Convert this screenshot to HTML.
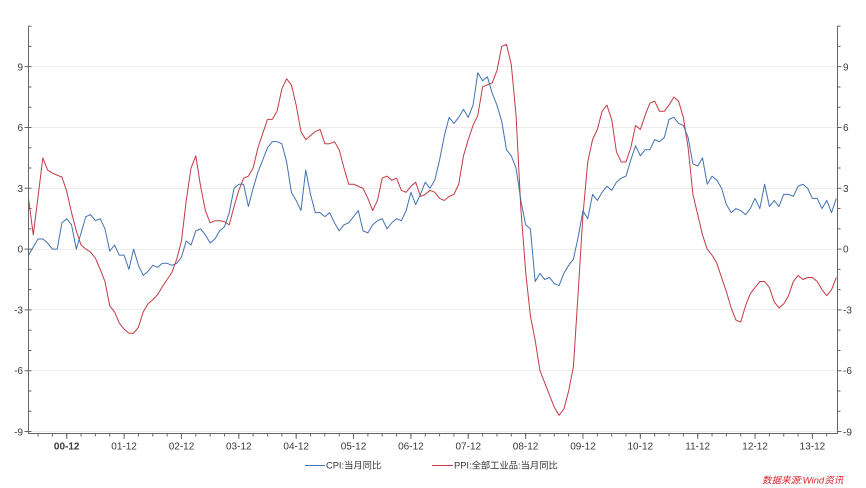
<!DOCTYPE html>
<html>
<head>
<meta charset="utf-8">
<style>
  html,body{margin:0;padding:0;background:#fff;}
  svg{display:block;}
  .tl{font-family:"Liberation Sans","Noto Sans CJK SC",sans-serif;font-size:10px;fill:#3a3a3a;}
  .lg{font-family:"Liberation Sans","Noto Sans CJK SC",sans-serif;font-size:9.3px;fill:#333;}
  .src{font-family:"Liberation Sans","Noto Sans CJK SC",sans-serif;font-size:9.5px;fill:#e0202a;font-style:italic;}
</style>
</head>
<body>
<svg width="866" height="488" viewBox="0 0 866 488" xmlns="http://www.w3.org/2000/svg">
  <rect x="0" y="0" width="866" height="488" fill="#fff"/>
  <!-- gridlines -->
  <g stroke="#ececec" stroke-width="1" shape-rendering="crispEdges">
    <line x1="29" y1="66.5" x2="837" y2="66.5"/>
    <line x1="29" y1="127.5" x2="837" y2="127.5"/>
    <line x1="29" y1="188.5" x2="837" y2="188.5"/>
    <line x1="29" y1="249.5" x2="837" y2="249.5"/>
    <line x1="29" y1="309.5" x2="837" y2="309.5"/>
    <line x1="29" y1="370.5" x2="837" y2="370.5"/>
    <line x1="29" y1="431.5" x2="837" y2="431.5"/>
  </g>

  <!-- series -->
  <g transform="translate(28.5,249.1) scale(4.78,-20.27)" fill="none" stroke-linejoin="round">
    <polyline vector-effect="non-scaling-stroke" stroke="#c43a44" stroke-width="1" points="0,2.5 1,0.7 2,2.6 3,4.5 4,3.9 5,3.75 6,3.65 7,3.55 8,2.85 9,1.8 10,0.9 11,0.2 12,0 13,-0.15 14,-0.45 15,-1 16,-1.6 17,-2.8 18,-3.1 19,-3.65 20,-3.95 21,-4.15 22,-4.15 23,-3.85 24,-3.1 25,-2.7 26,-2.5 27,-2.25 28,-1.85 29,-1.5 30,-1.15 31,-0.5 32,0.4 33,2.4 34,4 35,4.6 36,3.1 37,1.9 38,1.3 39,1.4 40,1.4 41,1.35 42,1.2 43,2.1 44,2.9 45,3.5 46,3.6 47,4 48,5 49,5.7 50,6.4 51,6.4 52,6.8 53,7.9 54,8.4 55,8.1 56,7.1 57,5.8 58,5.4 59,5.6 60,5.8 61,5.9 62,5.2 63,5.2 64,5.3 65,4.9 66,4 67,3.2 68,3.2 69,3.1 70,3 71,2.5 72,1.9 73,2.4 74,3.5 75,3.6 76,3.4 77,3.5 78,2.9 79,2.8 80,3.1 81,3.3 82,2.6 83,2.7 84,2.9 85,2.8 86,2.5 87,2.4 88,2.6 89,2.7 90,3.2 91,4.6 92,5.4 93,6.1 94,6.6 95,8 96,8.1 97,8.2 98,8.8 99,10 100,10.1 101,9.1 102,6.6 103,2 104,-1.1 105,-3.3 106,-4.5 107,-6 108,-6.6 109,-7.2 110,-7.8 111,-8.2 112,-7.9 113,-7 114,-5.8 115,-2.1 116,1.7 117,4.3 118,5.4 119,5.9 120,6.8 121,7.1 122,6.4 123,4.8 124,4.3 125,4.3 126,5 127,6.1 128,5.9 129,6.6 130,7.2 131,7.3 132,6.8 133,6.8 134,7.1 135,7.5 136,7.3 137,6.5 138,5 139,2.7 140,1.7 141,0.7 142,0 143,-0.3 144,-0.7 145,-1.4 146,-2.1 147,-2.9 148,-3.5 149,-3.6 150,-2.8 151,-2.2 152,-1.9 153,-1.6 154,-1.6 155,-1.9 156,-2.6 157,-2.9 158,-2.7 159,-2.3 160,-1.6 161,-1.3 162,-1.5 163,-1.4 164,-1.4 165,-1.6 166,-2 167,-2.3 168,-2 169,-1.4"/>
    <polyline vector-effect="non-scaling-stroke" stroke="#4272b2" stroke-width="1" points="0,-0.3 1,0.1 2,0.5 3,0.5 4,0.3 5,0 6,0 7,1.3 8,1.5 9,1.2 10,0 11,0.8 12,1.6 13,1.7 14,1.4 15,1.5 16,1 17,-0.1 18,0.2 19,-0.3 20,-0.3 21,-1 22,0 23,-0.8 24,-1.3 25,-1.1 26,-0.8 27,-0.9 28,-0.7 29,-0.7 30,-0.8 31,-0.7 32,-0.4 33,0.4 34,0.2 35,0.9 36,1 37,0.7 38,0.3 39,0.5 40,0.9 41,1.1 42,1.8 43,3 44,3.2 45,3.2 46,2.1 47,3 48,3.8 49,4.4 50,5 51,5.3 52,5.3 53,5.2 54,4.3 55,2.8 56,2.4 57,1.9 58,3.9 59,2.7 60,1.8 61,1.8 62,1.6 63,1.8 64,1.3 65,0.9 66,1.2 67,1.3 68,1.6 69,1.9 70,0.9 71,0.8 72,1.2 73,1.4 74,1.5 75,1 76,1.3 77,1.5 78,1.4 79,1.9 80,2.8 81,2.2 82,2.7 83,3.3 84,3 85,3.4 86,4.4 87,5.6 88,6.5 89,6.2 90,6.5 91,6.9 92,6.5 93,7.1 94,8.7 95,8.3 96,8.5 97,7.7 98,7.1 99,6.3 100,4.9 101,4.6 102,4 103,2.4 104,1.2 105,1 106,-1.6 107,-1.2 108,-1.5 109,-1.4 110,-1.7 111,-1.8 112,-1.2 113,-0.8 114,-0.5 115,0.6 116,1.9 117,1.5 118,2.7 119,2.4 120,2.8 121,3.1 122,2.9 123,3.3 124,3.5 125,3.6 126,4.4 127,5.1 128,4.6 129,4.9 130,4.9 131,5.4 132,5.3 133,5.5 134,6.4 135,6.5 136,6.2 137,6.1 138,5.5 139,4.2 140,4.1 141,4.5 142,3.2 143,3.6 144,3.4 145,3 146,2.2 147,1.8 148,2 149,1.9 150,1.7 151,2 152,2.5 153,2 154,3.2 155,2.1 156,2.4 157,2.1 158,2.7 159,2.7 160,2.6 161,3.1 162,3.2 163,3 164,2.5 165,2.5 166,2 167,2.4 168,1.8 169,2.5"/>
  </g>

  <!-- axes -->
  <g stroke="#666" stroke-width="1" fill="none" shape-rendering="crispEdges">
    <line x1="28.5" y1="26" x2="28.5" y2="433.5"/>
    <line x1="837.5" y1="26" x2="837.5" y2="433.5"/>
    <line x1="28" y1="433.5" x2="838" y2="433.5"/>
  </g>

  <!-- x ticks -->
  <g transform="translate(28.5,433.5) scale(4.78,3)">
    <path vector-effect="non-scaling-stroke" stroke="#666" stroke-width="1" fill="none" d="M2 0v1M5 0v1M8 0v1M11 0v1M14 0v1M17 0v1M20 0v1M23 0v1M26 0v1M29 0v1M32 0v1M35 0v1M38 0v1M41 0v1M44 0v1M47 0v1M50 0v1M53 0v1M56 0v1M59 0v1M62 0v1M65 0v1M68 0v1M71 0v1M74 0v1M77 0v1M80 0v1M83 0v1M86 0v1M89 0v1M92 0v1M95 0v1M98 0v1M101 0v1M104 0v1M107 0v1M110 0v1M113 0v1M116 0v1M119 0v1M122 0v1M125 0v1M128 0v1M131 0v1M134 0v1M137 0v1M140 0v1M143 0v1M146 0v1M149 0v1M152 0v1M155 0v1M158 0v1M161 0v1M164 0v1M167 0v1"/>
    <path vector-effect="non-scaling-stroke" stroke="#666" stroke-width="1" fill="none" d="M8 0v1.8M20 0v1.8M32 0v1.8M44 0v1.8M56 0v1.8M68 0v1.8M80 0v1.8M92 0v1.8M104 0v1.8M116 0v1.8M128 0v1.8M140 0v1.8M152 0v1.8M164 0v1.8"/>
  </g>

  <!-- y ticks -->
  <g transform="translate(0,249.1) scale(1,-20.27)">
    <path vector-effect="non-scaling-stroke" stroke="#666" stroke-width="1" fill="none" d="M28.5 -9h3M28.5 -8h3M28.5 -7h3M28.5 -6h3M28.5 -5h3M28.5 -4h3M28.5 -3h3M28.5 -2h3M28.5 -1h3M28.5 0h3M28.5 1h3M28.5 2h3M28.5 3h3M28.5 4h3M28.5 5h3M28.5 6h3M28.5 7h3M28.5 8h3M28.5 9h3M28.5 10h3M28.5 11h3M24.5 -9h4M24.5 -6h4M24.5 -3h4M24.5 0h4M24.5 3h4M24.5 6h4M24.5 9h4"/>
    <path vector-effect="non-scaling-stroke" stroke="#666" stroke-width="1" fill="none" d="M837.5 -9h3M837.5 -8h3M837.5 -7h3M837.5 -6h3M837.5 -5h3M837.5 -4h3M837.5 -3h3M837.5 -2h3M837.5 -1h3M837.5 0h3M837.5 1h3M837.5 2h3M837.5 3h3M837.5 4h3M837.5 5h3M837.5 6h3M837.5 7h3M837.5 8h3M837.5 9h3M837.5 10h3M837.5 11h3M837.5 -9h4M837.5 -6h4M837.5 -3h4M837.5 0h4M837.5 3h4M837.5 6h4M837.5 9h4"/>
  </g>

  <!-- y labels left -->
  <g class="tl" text-anchor="end">
    <text x="23" y="70.5">9</text>
    <text x="23" y="131">6</text>
    <text x="23" y="192">3</text>
    <text x="23" y="252.5">0</text>
    <text x="23" y="313.5">-3</text>
    <text x="23" y="374">-6</text>
    <text x="23" y="435.5">-9</text>
  </g>
  <!-- y labels right -->
  <g class="tl" text-anchor="start">
    <text x="843" y="70.5">9</text>
    <text x="843" y="131">6</text>
    <text x="843" y="192">3</text>
    <text x="843" y="252.5">0</text>
    <text x="843" y="313.5">-3</text>
    <text x="843" y="374">-6</text>
    <text x="843" y="435.5">-9</text>
  </g>

  <!-- x labels -->
  <g class="tl" text-anchor="middle">
    <text x="66.7" y="449.5" font-weight="bold">00-12</text>
    <text x="124.1" y="449.5">01-12</text>
    <text x="181.5" y="449.5">02-12</text>
    <text x="238.8" y="449.5">03-12</text>
    <text x="296.2" y="449.5">04-12</text>
    <text x="353.5" y="449.5">05-12</text>
    <text x="410.9" y="449.5">06-12</text>
    <text x="468.3" y="449.5">07-12</text>
    <text x="525.6" y="449.5">08-12</text>
    <text x="583" y="449.5">09-12</text>
    <text x="640.3" y="449.5">10-12</text>
    <text x="697.7" y="449.5">11-12</text>
    <text x="755.1" y="449.5">12-12</text>
    <text x="812.4" y="449.5">13-12</text>
  </g>

  <!-- legend -->
  <line x1="305" y1="465.5" x2="325" y2="465.5" stroke="#4272b2" stroke-width="1" shape-rendering="crispEdges"/>
  <text class="lg" x="326" y="468.5">CPI:当月同比</text>
  <line x1="432" y1="465.5" x2="453" y2="465.5" stroke="#c43a44" stroke-width="1" shape-rendering="crispEdges"/>
  <text class="lg" x="454" y="468.5">PPI:全部工业品:当月同比</text>

  <!-- source -->
  <text class="src" x="762" y="483.5">数据来源:Wind资讯</text>
</svg>
</body>
</html>
